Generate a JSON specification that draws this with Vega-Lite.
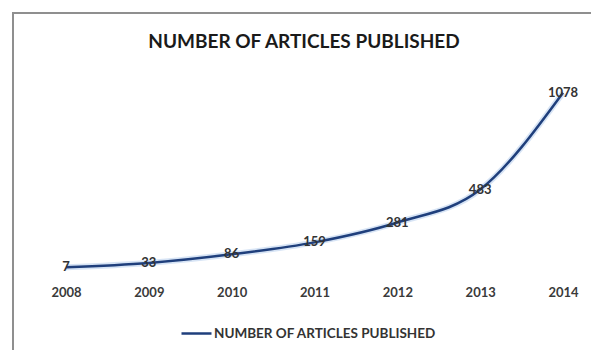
{
  "$schema": "https://vega.github.io/schema/vega-lite/v6.json",
  "autosize": "none",
  "padding": {"left": 13, "top": 13, "right": 0, "bottom": 0},
  "width": 582,
  "height": 340,
  "background": "white",
  "config": {
    "view": {"stroke": "#8f8f8f", "strokeWidth": 2},
    "font": "Lato"
  },
  "title": {
    "text": "NUMBER OF ARTICLES PUBLISHED",
    "font": "Lato",
    "fontSize": 19,
    "fontWeight": "bold",
    "color": "#1a1a1a",
    "anchor": "middle",
    "offset": -39
  },
  "data": {
    "values": [
      {"year": "2008", "articles": 7, "series": "NUMBER OF ARTICLES PUBLISHED"},
      {"year": "2009", "articles": 33, "series": "NUMBER OF ARTICLES PUBLISHED"},
      {"year": "2010", "articles": 86, "series": "NUMBER OF ARTICLES PUBLISHED"},
      {"year": "2011", "articles": 159, "series": "NUMBER OF ARTICLES PUBLISHED"},
      {"year": "2012", "articles": 281, "series": "NUMBER OF ARTICLES PUBLISHED"},
      {"year": "2013", "articles": 483, "series": "NUMBER OF ARTICLES PUBLISHED"},
      {"year": "2014", "articles": 1078, "series": "NUMBER OF ARTICLES PUBLISHED"}
    ]
  },
  "encoding": {
    "x": {
      "field": "year",
      "type": "ordinal",
      "scale": {"type": "point", "range": [53, 550], "padding": 0},
      "axis": {
        "title": null,
        "domain": false,
        "ticks": false,
        "labelAngle": 0,
        "labelFont": "Lato",
        "labelFontSize": 13,
        "labelFontWeight": "bold",
        "labelColor": "#3a3a3a",
        "labelPadding": 2,
        "offset": -69
      }
    },
    "y": {
      "field": "articles",
      "type": "quantitative",
      "scale": {"domain": [-520, 1567], "nice": false, "zero": false},
      "axis": null
    }
  },
  "layer": [
    {
      "mark": {"type": "line", "color": "#bcd2ee", "strokeWidth": 6, "opacity": 0.6, "interpolate": "monotone"}
    },
    {
      "mark": {"type": "line", "strokeWidth": 2.5, "interpolate": "monotone"},
      "encoding": {
        "color": {
          "field": "series",
          "type": "nominal",
          "scale": {"range": ["#1f3f7c"]},
          "legend": {
            "title": null,
            "orient": "none",
            "legendX": 167,
            "legendY": 304,
            "symbolType": "stroke",
            "symbolSize": 900,
            "symbolStrokeWidth": 2.5,
            "labelFont": "Lato",
            "labelFontSize": 13.5,
            "labelFontWeight": "bold",
            "labelColor": "#333333",
            "labelOffset": 1,
            "labelLimit": 0
          }
        }
      }
    },
    {
      "mark": {"type": "text", "font": "Lato", "fontSize": 13, "fontWeight": "bold", "color": "#333333", "align": "center", "baseline": "middle"},
      "encoding": {"text": {"field": "articles", "type": "quantitative"}}
    }
  ]
}
